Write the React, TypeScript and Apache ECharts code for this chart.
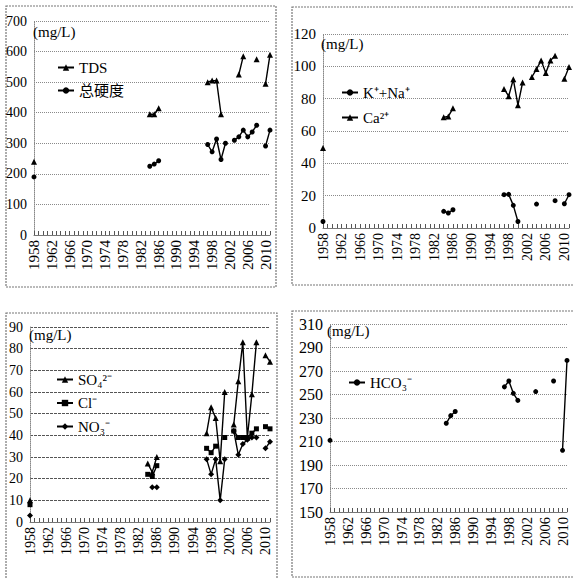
import React, { useEffect, useRef } from "react";
import * as echarts from "echarts";

const years = [
  "1958", "1959", "1960", "1961", "1962", "1963", "1964", "1965", "1966", "1967",
  "1968", "1969", "1970", "1971", "1972", "1973", "1974", "1975", "1976", "1977",
  "1978", "1979", "1980", "1981", "1982", "1983", "1984", "1985", "1986", "1987",
  "1988", "1989", "1990", "1991", "1992", "1993", "1994", "1995", "1996", "1997",
  "1998", "1999", "2000", "2001", "2002", "2003", "2004", "2005", "2006", "2007",
  "2008", "2009", "2010", "2011",
];

// Panel 1: TDS / 总硬度
const tdsYears = [1958, 1984, 1985, 1986, 1997, 1998, 1999, 2000, 2004, 2005, 2008, 2010, 2011];
const tdsValues = [240, 395, 395, 415, 500, 505, 505, 395, 525, 585, 575, 495, 590];
const hardYears = [1958, 1984, 1985, 1986, 1997, 1998, 1999, 2000, 2001, 2003, 2004, 2005, 2006, 2007, 2008, 2010, 2011];
const hardValues = [190, 225, 232, 243, 296, 272, 314, 247, 300, 310, 321, 343, 321, 337, 359, 291, 343];

// Panel 2: K+Na / Ca
const knaYears = [1958, 1984, 1985, 1986, 1997, 1998, 1999, 2000, 2004, 2008, 2010, 2011];
const knaValues = [4, 10.3, 9.3, 11.3, 20.6, 20.8, 14, 4, 14.8, 16.9, 15, 20.6];
const caYears = [1958, 1984, 1985, 1986, 1997, 1998, 1999, 2000, 2001, 2003, 2004, 2005, 2006, 2007, 2008, 2010, 2011];
const caValues = [49.5, 68.5, 69, 74, 86, 81.5, 92, 76, 90, 93.4, 98.3, 103.6, 95.9, 103.6, 106.6, 92.3, 99.6];

// Panel 3: SO4 / Cl / NO3
const so4Years = [1958, 1984, 1985, 1986, 1997, 1998, 1999, 2000, 2001, 2003, 2004, 2005, 2006, 2007, 2008, 2010, 2011];
const so4Values = [10, 27, 23, 30, 41, 53, 48, 28, 60, 45, 65, 83, 39, 59, 83, 77, 74];
const clYears = [1958, 1984, 1985, 1986, 1997, 1998, 1999, 2001, 2003, 2004, 2005, 2006, 2007, 2008, 2010, 2011];
const clValues = [8, 22, 21, 26, 34, 32, 35, 39, 42, 39, 39, 39, 41, 43, 44, 43];
const no3Years = [1958, 1985, 1986, 1997, 1998, 1999, 2000, 2001, 2003, 2004, 2005, 2006, 2007, 2008, 2010, 2011];
const no3Values = [3, 16, 16, 29, 22, 29, 10, 29, 42, 31, 36, 38, 39, 39, 34, 37];

// Panel 4: HCO3
const hco3Years = [1958, 1984, 1985, 1986, 1997, 1998, 1999, 2000, 2004, 2008, 2010, 2011];
const hco3Values = [211, 225.5, 232, 235.5, 256.5, 261.5, 251, 245, 252.5, 261.5, 202.5, 279];

const unitLabel = "(mg/L)";

function expand(ys: number[], vs: number[]) {
  return years.map((y) => {
    const i = ys.indexOf(Number(y));
    return i >= 0 ? vs[i] : null;
  });
}

const FONT = "Liberation Serif, DejaVu Serif, serif";
const CJK = "Liberation Serif, Noto Sans CJK SC, serif";

export default function App() {
  const ref = useRef<HTMLDivElement>(null);
  useEffect(() => {
    document.body.style.margin = "0";
    const chart = echarts.init(ref.current!, null, { renderer: "svg" });

    const panels = [
      { grid: { left: 34, top: 21, width: 236, height: 214 }, min: 0, max: 700, interval: 100, yFont: 14, xFont: 15, split: "#8a8a8a", splitType: "dotted" },
      { grid: { left: 323, top: 34, width: 246, height: 194 }, min: 0, max: 120, interval: 20, yFont: 15, xFont: 14, split: "#8a8a8a", splitType: "dotted" },
      { grid: { left: 30, top: 327, width: 240, height: 195 }, min: 0, max: 90, interval: 10, yFont: 14, xFont: 14, split: "#555", splitType: [3, 1] },
      { grid: { left: 330, top: 324, width: 237, height: 188 }, min: 150, max: 310, interval: 20, yFont: 16, xFont: 14.5, split: "#8a8a8a", splitType: "dotted" },
    ];

    const grids = panels.map((p) => ({ ...p.grid, containLabel: false }));
    const xAxes = panels.map((p, i) => ({
      type: "category",
      gridIndex: i,
      data: years,
      boundaryGap: false,
      axisLine: { show: true, lineStyle: { color: "#777", width: 1 } },
      axisTick: { show: true, inside: true, length: 4, interval: 0, lineStyle: { color: "#555" } },
      axisLabel: { interval: 3, rotate: 90, margin: 5, fontFamily: FONT, fontSize: p.xFont, color: "#000" },
      splitLine: { show: false },
    }));
    const yAxes = panels.map((p, i) => ({
      type: "value",
      gridIndex: i,
      min: p.min,
      max: p.max,
      interval: p.interval,
      axisLine: { show: true, lineStyle: { color: "#888", type: "dotted" } },
      axisTick: { show: false },
      axisLabel: { margin: 7, fontFamily: FONT, fontSize: p.yFont, color: "#000" },
      splitLine: { show: true, lineStyle: { color: p.split, type: p.splitType, width: 1 } },
    }));

    const mk = (name: string, idx: number, ys: number[], vs: number[], symbol: string, size: number) => ({
      name,
      type: "line",
      xAxisIndex: idx,
      yAxisIndex: idx,
      data: expand(ys, vs),
      connectNulls: false,
      showSymbol: true,
      showAllSymbol: true,
      symbol,
      symbolSize: size,
      lineStyle: { color: "#000", width: 1.4 },
      itemStyle: { color: "#000" },
      color: "#000",
    });

    const series = [
      mk("TDS", 0, tdsYears, tdsValues, "triangle", 6),
      mk("总硬度", 0, hardYears, hardValues, "circle", 5),
      mk("K⁺+Na⁺", 1, knaYears, knaValues, "circle", 5),
      mk("Ca²⁺", 1, caYears, caValues, "triangle", 6),
      mk("SO₄²⁻", 2, so4Years, so4Values, "triangle", 6),
      mk("Cl⁻", 2, clYears, clValues, "rect", 5),
      mk("NO₃⁻", 2, no3Years, no3Values, "diamond", 6),
      mk("HCO₃⁻", 3, hco3Years, hco3Values, "circle", 5),
    ];

    const legendBase = {
      orient: "vertical",
      itemWidth: 16,
      itemHeight: 8,
      textStyle: { fontFamily: CJK, fontSize: 15, color: "#000" },
      selectedMode: false,
    };
    const legend = [
      { ...legendBase, left: 52, top: 55, itemGap: 8, data: ["TDS", "总硬度"] },
      { ...legendBase, left: 336, top: 80, itemGap: 10, data: ["K⁺+Na⁺", "Ca²⁺"] },
      { ...legendBase, left: 51, top: 367, itemGap: 8.5, data: ["SO₄²⁻", "Cl⁻", "NO₃⁻"] },
      { ...legendBase, left: 343, top: 370, itemGap: 8, data: ["HCO₃⁻"] },
    ];

    const boxStyle = { fill: "none", stroke: "#777", lineWidth: 1.2, lineDash: [2, 1] };
    const boxes = [
      { x: 6, y: 6, width: 270, height: 281 },
      { x: 292, y: 7, width: 300, height: 278 },
      { x: 6, y: 313, width: 271, height: 280 },
      { x: 292, y: 311, width: 300, height: 266 },
    ];
    const units = [
      { x: 33, y: 24, size: 15 },
      { x: 321, y: 36, size: 15 },
      { x: 29, y: 327, size: 15 },
      { x: 327, y: 323, size: 15 },
    ];
    const graphic = [
      ...boxes.map((b) => ({ type: "rect", shape: b, style: boxStyle, silent: true, z: 0 })),
      ...units.map((u) => ({
        type: "text",
        x: u.x,
        y: u.y,
        style: { text: unitLabel, fontSize: u.size, fontFamily: FONT, fill: "#000" },
        z: 10,
      })),
    ];

    chart.setOption({
      animation: false,
      backgroundColor: "#fff",
      grid: grids,
      xAxis: xAxes,
      yAxis: yAxes,
      legend,
      series,
      graphic,
    });
    return () => chart.dispose();
  }, []);
  return <div ref={ref} style={{ width: 573, height: 578 }} />;
}
